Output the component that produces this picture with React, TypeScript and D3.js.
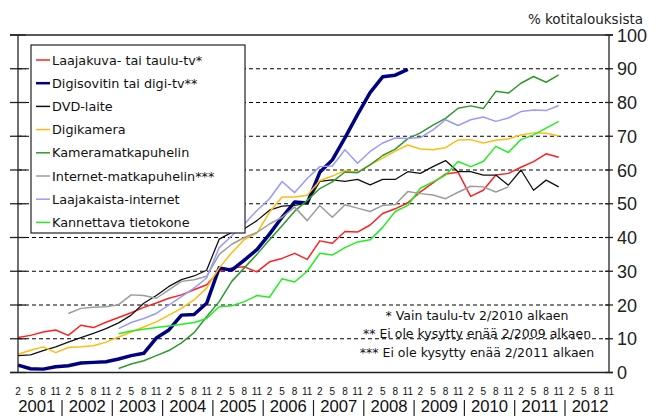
import { useEffect, useRef } from 'react';
import * as d3 from 'd3';

// Quarterly survey points: months 2, 5, 8, 11 of each year, 2001/2 .. 2011/11 (44 points)
const YEARS = d3.range(2001, 2013);
const MONTHS = ['2', '5', '8', '11'];

const laajakuva = [10.4, 11.0, 12.0, 12.6, 11.0, 14.0, 13.3, 14.9, 16.3, 17.7, 19.3, 20.6, 22.0, 23.0, 24.5, 26.0,
  30.0, 31.0, 31.3, 29.8, 32.8, 33.8, 35.3, 33.5, 39.0, 38.3, 41.8, 41.6, 43.7, 47.1, 48.5, 50.3,
  53.5, 56.2, 58.8, 59.3, 52.2, 54.0, 58.5, 59.0, 60.8, 62.5, 64.8, 63.8];
const digisovitin = [2.2, 1.1, 1.0, 1.7, 2.0, 2.8, 3.0, 3.2, 4.0, 5.0, 5.7, 10.2, 12.6, 17.0, 17.2, 20.5,
  31.0, 30.3, 33.3, 36.4, 41.0, 46.0, 50.5, 50.2, 59.3, 63.0, 69.5, 76.4, 82.9, 87.6, 88.1, 89.8,
  null, null, null, null, null, null, null, null, null, null, null, null];
const dvd = [5.0, 5.2, 6.5, 7.6, 9.0, 10.3, 11.6, 13.0, 14.7, 17.0, 20.5, 22.8, 25.5, 27.5, 28.6, 30.3,
  39.5, 41.5, 42.6, 45.0, 48.1, 49.3, 49.5, 50.2, 56.6, 57.1, 56.6, 57.2, 55.6, 57.2, 57.2, 59.5,
  59.0, 61.0, 62.8, 59.5, 59.5, 58.5, 58.5, 55.5, 60.0, 54.0, 57.0, 55.0];
const digikamera = [5.4, 6.6, 7.6, 5.9, 7.4, 7.6, 7.9, 9.0, 10.5, 12.0, 13.5, 15.0, 17.0, 19.0, 21.5, 25.0,
  31.0, 35.5, 39.4, 41.3, 47.5, 52.0, 52.0, 52.5, 56.8, 58.2, 59.8, 59.3, 61.6, 63.5, 65.6, 67.4,
  66.2, 66.0, 66.6, 68.9, 69.0, 68.0, 68.8, 69.2, 70.4, 71.0, 70.9, 70.1];
const kameramatkapuhelin = [null, null, null, null, null, null, null, null, 1.2, 2.5, 3.5, 5.0, 6.5, 8.8, 11.8, 16.5,
  21.0, 27.0, 31.0, 35.0, 39.3, 43.5, 47.8, 51.0, 54.5, 56.5, 59.4, 59.2, 61.5, 64.3, 66.2, 69.3,
  71.0, 73.3, 75.3, 78.3, 79.0, 78.2, 83.3, 82.8, 85.7, 87.7, 86.0, 88.2];
const internetMatkapuhelin = [null, null, null, null, 17.5, 19.0, 19.3, 19.5, 20.1, 23.0, 22.8, 22.0, 24.5, 27.0, 27.5, 28.5,
  35.0, 38.0, 40.0, 41.5, 44.0, 46.0, 49.0, 45.0, 49.5, 46.0, 49.7, 48.7, 47.7, 49.5, 49.8, 53.6,
  53.0, 52.6, 51.5, 53.4, 55.2, 55.0, 53.5, 55.0, null, null, null, null];
const laajakaista = [null, null, null, null, null, null, null, null, 13.0, 14.8, 16.0, 17.5, 20.0, 22.5, 25.0, 28.0,
  37.0, 40.5, 44.0, 48.0, 51.5, 56.6, 53.3, 57.5, 61.0, 61.2, 66.0, 62.0, 65.5, 68.0, 69.5, 69.3,
  69.6, 71.9, 74.9, 73.2, 74.9, 75.7, 74.4, 75.4, 77.3, 77.8, 77.6, 79.1];
const kannettava = [null, null, null, null, null, null, null, null, 11.5, 12.3, 12.8, 13.3, 13.8, 14.3, 14.8, 16.0,
  19.5, 19.8, 21.0, 22.8, 22.3, 27.8, 26.8, 30.0, 35.3, 34.8, 37.0, 38.7, 39.3, 43.0, 47.7, 49.5,
  54.6, 56.5, 58.5, 62.5, 61.0, 62.5, 67.0, 65.2, 69.0, 70.4, 72.4, 74.4];

const SERIES = [
  { name: 'Laajakuva- tai taulu-tv*', color: '#ff2020', width: 1.5, values: laajakuva },
  { name: 'Digisovitin tai digi-tv**', color: '#000080', width: 3.5, values: digisovitin },
  { name: 'DVD-laite', color: '#111111', width: 1.3, values: dvd },
  { name: 'Digikamera', color: '#ffbb11', width: 1.5, values: digikamera },
  { name: 'Kameramatkapuhelin', color: '#2e9a2e', width: 1.5, values: kameramatkapuhelin },
  { name: 'Internet-matkapuhelin***', color: '#9c9c9c', width: 1.5, values: internetMatkapuhelin },
  { name: 'Laajakaista-internet', color: '#9999ff', width: 1.5, values: laajakaista },
  { name: 'Kannettava tietokone', color: '#22ee22', width: 1.5, values: kannettava },
];

const FOOTNOTES = [
  '* Vain taulu-tv 2/2010 alkaen',
  '** Ei ole kysytty enää 2/2009 alkaen',
  '*** Ei ole kysytty enää 2/2011 alkaen',
];

const Y_TICKS = d3.range(0, 101, 10);
const W = 659;
const H = 416;
const PLOT = { left: 18, right: 609, top: 35, bottom: 372.5 };
const FONT = '"DejaVu Sans", sans-serif';
const NUM_FONT = '"Liberation Sans", Arial, sans-serif';

export default function App() {
  const svgRef = useRef<SVGSVGElement>(null);

  useEffect(() => {
    if (!svgRef.current) return;
    const svg = d3.select(svgRef.current);
    svg.selectAll('*').remove();

    const slots = d3.range(YEARS.length * 4);
    const x = d3.scalePoint<number>().domain(slots).range([PLOT.left, PLOT.right]);
    const y = d3.scaleLinear().domain([0, 100]).range([PLOT.bottom, PLOT.top]);
    const step = x.step();

    // ── Grid lines ──────────────────────────────────────────────────────
    svg.append('g')
      .selectAll('line')
      .data(Y_TICKS.filter(t => t > 0 && t < 100))
      .join('line')
      .attr('x1', PLOT.left).attr('x2', PLOT.right)
      .attr('y1', d => y(d)).attr('y2', d => y(d))
      .attr('stroke', '#000').attr('stroke-width', 1)
      .attr('stroke-dasharray', '4,3');

    // ── Series lines ────────────────────────────────────────────────────
    const line = d3.line<number | null>()
      .defined(d => d != null)
      .x((_, i) => x(i)!)
      .y(d => y(d as number));

    const lines = svg.append('g');
    SERIES.forEach(s => {
      lines.append('path')
        .attr('d', line(s.values))
        .attr('fill', 'none')
        .attr('stroke', s.color)
        .attr('stroke-width', s.width)
        .attr('stroke-linejoin', 'round');
    });

    // ── Frame / axes ────────────────────────────────────────────────────
    const axis = svg.append('g').attr('stroke', '#222').attr('stroke-width', 1.3);
    axis.append('line').attr('x1', PLOT.left).attr('x2', PLOT.left).attr('y1', y(100)).attr('y2', y(0));
    axis.append('line').attr('x1', PLOT.right).attr('x2', PLOT.right).attr('y1', y(100)).attr('y2', y(0));
    axis.append('line').attr('x1', PLOT.left - 8).attr('x2', PLOT.right + 4).attr('y1', y(100)).attr('y2', y(100));
    axis.append('line').attr('x1', PLOT.left - 8).attr('x2', PLOT.right + 4).attr('y1', y(0)).attr('y2', y(0));
    Y_TICKS.forEach(t => {
      axis.append('line').attr('x1', PLOT.left - 8).attr('x2', PLOT.left + 8).attr('y1', y(t)).attr('y2', y(t));
      axis.append('line').attr('x1', PLOT.right - 4).attr('x2', PLOT.right + 4).attr('y1', y(t)).attr('y2', y(t));
    });

    // ── Right axis labels ───────────────────────────────────────────────
    svg.append('g')
      .selectAll('text')
      .data(Y_TICKS)
      .join('text')
      .attr('x', PLOT.right + 8)
      .attr('y', d => y(d) + 6.5)
      .attr('font-family', NUM_FONT)
      .attr('font-size', 18)
      .attr('fill', '#222')
      .text(d => d);

    svg.append('text')
      .attr('x', 643)
      .attr('y', 24)
      .attr('text-anchor', 'end')
      .attr('font-family', FONT)
      .attr('font-size', 13.5)
      .attr('fill', '#222')
      .text('% kotitalouksista');

    // ── X axis labels: months + years ───────────────────────────────────
    svg.append('g')
      .selectAll('text')
      .data(slots)
      .join('text')
      .attr('x', d => x(d)!)
      .attr('y', 395)
      .attr('text-anchor', 'middle')
      .attr('font-family', NUM_FONT)
      .attr('font-size', 10)
      .attr('fill', '#111')
      .text(d => MONTHS[d % 4]);

    const years = svg.append('g');
    YEARS.forEach((yr, k) => {
      const cx = (x(k * 4)! + x(k * 4 + 3)!) / 2;
      years.append('text')
        .attr('x', cx)
        .attr('y', 412)
        .attr('text-anchor', 'middle')
        .attr('font-family', NUM_FONT)
        .attr('font-size', 17)
        .attr('textLength', 37)
        .attr('lengthAdjust', 'spacingAndGlyphs')
        .attr('fill', '#111')
        .text(yr);
      if (k > 0) {
        const sx = x(k * 4)! - step / 2;
        years.append('line')
          .attr('x1', sx).attr('x2', sx)
          .attr('y1', 400).attr('y2', 416)
          .attr('stroke', '#222').attr('stroke-width', 1.2);
      }
    });

    // ── Legend ──────────────────────────────────────────────────────────
    const legend = svg.append('g').attr('transform', 'translate(31,45)');
    legend.append('rect')
      .attr('width', 214).attr('height', 188)
      .attr('fill', '#fff').attr('stroke', '#222').attr('stroke-width', 1.2);
    SERIES.forEach((s, i) => {
      const ly = 15 + i * 23.2;
      legend.append('line')
        .attr('x1', 5).attr('x2', 19)
        .attr('y1', ly).attr('y2', ly)
        .attr('stroke', s.color)
        .attr('stroke-width', s.width > 2 ? 2.5 : 1.5);
      legend.append('text')
        .attr('x', 21)
        .attr('y', ly + 4.5)
        .attr('font-family', FONT)
        .attr('font-size', 12.8)
        .attr('fill', '#111')
        .text(s.name);
    });

    // ── Footnotes ───────────────────────────────────────────────────────
    svg.append('g')
      .selectAll('text')
      .data(FOOTNOTES)
      .join('text')
      .attr('x', 477)
      .attr('y', (_, i) => 319.5 + i * 18.5)
      .attr('text-anchor', 'middle')
      .attr('font-family', FONT)
      .attr('font-size', 12.5)
      .attr('fill', '#111')
      .text(d => d);
  }, []);

  return (
    <svg
      ref={svgRef}
      width={W}
      height={H}
      style={{ position: 'absolute', left: 0, top: 0, background: '#fff' }}
    />
  );
}
